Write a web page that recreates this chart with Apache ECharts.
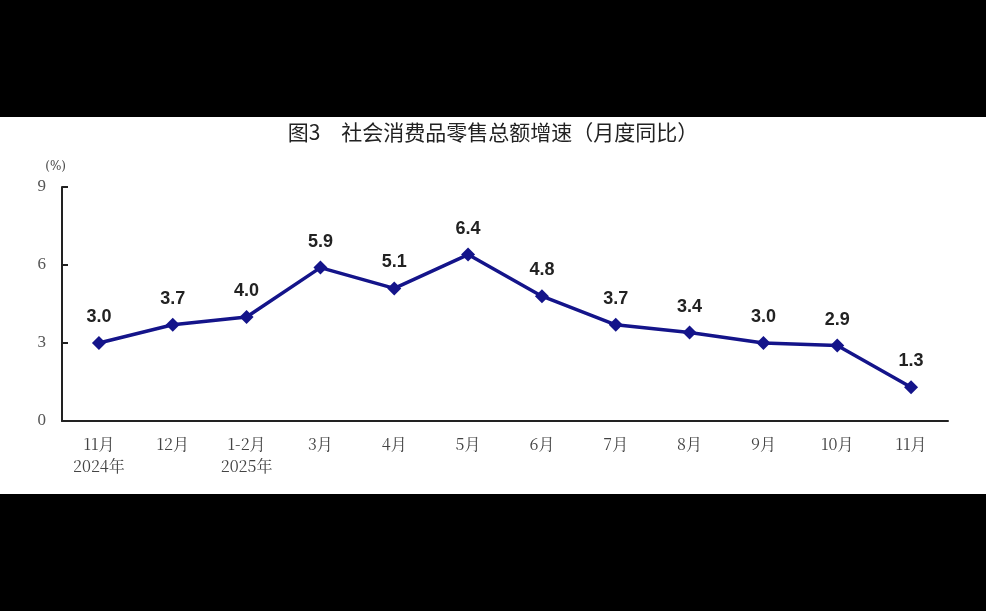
<!DOCTYPE html>
<html><head><meta charset="utf-8">
<script src="https://cdn.jsdelivr.net/npm/echarts@6/dist/echarts.min.js"></script>
<style>html,body{margin:0;padding:0;background:#000;width:986px;height:611px;overflow:hidden}
#c{position:absolute;left:0;top:117px;width:986px;height:377px;background:#fff}</style>
</head><body><div id="c"></div>
<script>
const categories = ['11月\n2024年','12月','1-2月\n2025年','3月','4月','5月','6月','7月','8月','9月','10月','11月'];
const values = [3.0,3.7,4.0,5.9,5.1,6.4,4.8,3.7,3.4,3.0,2.9,1.3];
const yTicks = [0,3,6,9];
const chart = echarts.init(document.getElementById('c'));
chart.setOption({
  backgroundColor:'#fff',
  animation:false,
  title:{text:'图3　社会消费品零售总额增速（月度同比）',left:'center',top:0,
    textStyle:{fontFamily:'Noto Sans CJK SC',fontSize:21,fontWeight:'normal',color:'#222'}},
  grid:{left:62,right:38,top:70,bottom:73},
  xAxis:{type:'category',data:categories,boundaryGap:true,
    axisLine:{lineStyle:{color:'#222',width:2}},
    axisTick:{inside:true,length:6,lineStyle:{color:'#222',width:2}},
    axisLabel:{fontFamily:'Noto Serif CJK SC, serif',fontSize:16,color:'#444',margin:12,lineHeight:22,interval:0}},
  yAxis:{type:'value',min:0,max:9,interval:3,name:'(%)',nameGap:14,
    nameTextStyle:{fontFamily:'DejaVu Serif',fontSize:12,color:'#444',align:'right',padding:[0,-4,0,0]},
    splitLine:{show:false},
    axisLine:{show:true,lineStyle:{color:'#222',width:2}},
    axisTick:{show:true,inside:true,length:6,lineStyle:{color:'#222',width:2}},
    axisLabel:{fontFamily:'Liberation Serif',fontSize:17,color:'#555',margin:16,
      formatter:v=>yTicks.includes(v)?String(v):''}},
  series:[{type:'line',data:values,symbol:'diamond',symbolSize:14,
    lineStyle:{color:'#14148a',width:3.5},itemStyle:{color:'#14148a'},
    label:{show:true,position:'top',distance:10,formatter:p=>p.value.toFixed(1),
      fontFamily:'Liberation Sans',fontWeight:'bold',fontSize:18,color:'#222'}}]
});
</script></body></html>
